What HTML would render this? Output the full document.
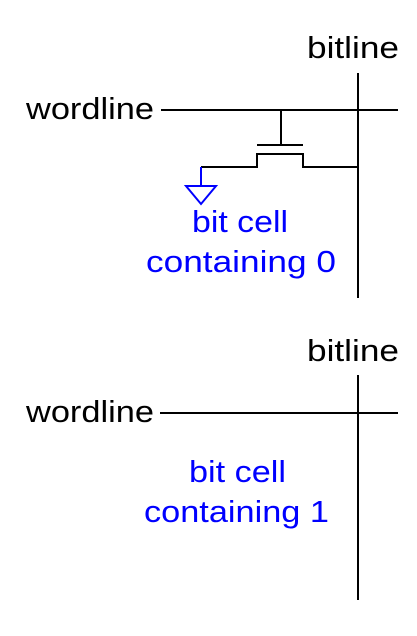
<!DOCTYPE html>
<html><head><style>html,body{margin:0;padding:0;background:#fff}svg{display:block}</style></head>
<body>
<svg width="417" height="636" viewBox="0 0 417 636" xmlns="http://www.w3.org/2000/svg" font-family="Liberation Sans, Arial, sans-serif" font-size="31">
<g stroke="#000" stroke-width="2" fill="none">
<line x1="358" y1="73" x2="358" y2="298"/>
<line x1="161" y1="110" x2="398" y2="110"/>
<line x1="281" y1="110" x2="281" y2="145"/>
<line x1="257" y1="145" x2="303" y2="145"/>
<polyline points="201,167 257,167 257,154 303,154 303,167 358,167"/>
<line x1="358" y1="375" x2="358" y2="600"/>
<line x1="160" y1="413" x2="398" y2="413"/>
</g>
<g stroke="#0000ff" stroke-width="2" fill="none">
<line x1="201" y1="167" x2="201" y2="186"/>
<polygon points="186,186 216,186 201,204"/>
</g>
<g fill="#000">
<text x="307" y="58" textLength="92" lengthAdjust="spacingAndGlyphs">bitline</text>
<text x="26" y="119" textLength="128" lengthAdjust="spacingAndGlyphs">wordline</text>
<text x="307" y="361" textLength="92" lengthAdjust="spacingAndGlyphs">bitline</text>
<text x="26" y="422" textLength="128" lengthAdjust="spacingAndGlyphs">wordline</text>
</g>
<g fill="#0000ff">
<text x="192" y="232" textLength="96" lengthAdjust="spacingAndGlyphs">bit cell</text>
<text x="146" y="272" textLength="190" lengthAdjust="spacingAndGlyphs">containing 0</text>
<text x="189" y="482" textLength="97" lengthAdjust="spacingAndGlyphs">bit cell</text>
<text x="144" y="522" textLength="185" lengthAdjust="spacingAndGlyphs">containing 1</text>
</g>
</svg>
</body></html>
